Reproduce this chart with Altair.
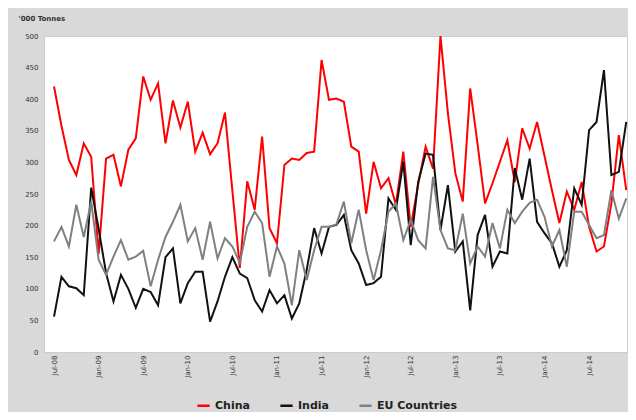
import altair as alt
import pandas as pd

months = list(pd.date_range("2008-07-01", periods=78, freq="MS").strftime("%b-%y"))
tick_labels = months[::6]

series_names = ["China", "India", "EU Countries"]
series_colors = ["#ff0000", "#111111", "#808080"]

china = [420, 358, 304, 280, 330, 309, 155, 306, 312, 262,
         320, 338, 436, 399, 425, 330, 398, 355, 396, 317,
         347, 313, 330, 379, 255, 133, 270, 225, 341, 196,
         172, 296, 306, 304, 315, 317, 462, 399, 401, 396,
         325, 317, 219, 301, 259, 275, 233, 317, 198, 265,
         325, 290, 500, 378, 283, 238, 417, 328, 235, 267,
         301, 335, 269, 354, 322, 364, 310, 256, 204, 254,
         225, 269, 198, 159, 167, 235, 343, 256]

india = [56, 119, 104, 101, 90, 260, 195, 125, 80, 122,
         100, 70, 100, 95, 74, 150, 164, 77, 109, 127,
         127, 48, 80, 119, 150, 124, 117, 82, 64, 98,
         77, 90, 53, 77, 130, 196, 156, 198, 201, 217,
         161, 140, 106, 109, 119, 243, 225, 301, 169, 269,
         314, 312, 193, 264, 159, 175, 66, 185, 217, 135,
         159, 156, 291, 241, 306, 206, 188, 172, 135, 161,
         259, 233, 351, 364, 446, 280, 285, 364]

eu = [175, 198, 167, 233, 182, 238, 146, 122, 151, 177,
      146, 151, 160, 104, 146, 182, 206, 233, 175, 196,
      146, 206, 148, 180, 167, 141, 198, 222, 204, 119,
      167, 140, 74, 161, 114, 161, 198, 198, 202, 238,
      172, 225, 161, 114, 161, 222, 235, 177, 209, 177,
      164, 277, 193, 164, 161, 219, 140, 167, 151, 204,
      164, 225, 204, 222, 236, 241, 214, 167, 193, 135,
      222, 222, 201, 180, 185, 256, 211, 243]

rows = []
for name, vals in zip(series_names, [china, india, eu]):
    for i, v in enumerate(vals):
        rows.append({"idx": i, "month": months[i], "series": name, "value": v})
df = pd.DataFrame(rows)

label_expr = "[" + ",".join("'%s'" % l for l in tick_labels) + "][round(datum.value / 6)]"

chart = alt.Chart(df).mark_line(strokeWidth=2, strokeJoin="miter").encode(
    x=alt.X("idx:Q",
            scale=alt.Scale(domain=[-1.35, 77.1], nice=False, zero=False),
            axis=alt.Axis(values=list(range(0, 73, 6)), labelExpr=label_expr,
                          labelAngle=270, labelFontSize=7, labelColor="#333333",
                          labelFont="DejaVu Sans", labelPadding=3,
                          domain=False, ticks=False, grid=False, title=None)),
    y=alt.Y("value:Q",
            scale=alt.Scale(domain=[0, 500], nice=False),
            axis=alt.Axis(values=list(range(0, 501, 50)), title="'000 Tonnes",
                          titleAngle=0, titleX=-26, titleY=-18, titleAlign="left",
                          titleBaseline="middle", titleFontSize=7, titleFontWeight="bold",
                          titleFont="DejaVu Sans", titleColor="#333333",
                          labelFontSize=7, labelColor="#333333", labelFont="DejaVu Sans",
                          labelPadding=6, domain=False, ticks=False, grid=False)),
    color=alt.Color("series:N",
                    scale=alt.Scale(domain=series_names, range=series_colors),
                    sort=series_names,
                    legend=alt.Legend(orient="none", legendX=152, legendY=362,
                                      direction="horizontal", title=None,
                                      symbolType="stroke", symbolStrokeWidth=2.5,
                                      symbolSize=150, columnPadding=25,
                                      labelFontSize=11, labelFontWeight="bold",
                                      labelFont="DejaVu Sans", labelColor="#222222")),
    detail="series:N",
    order="idx:Q",
).properties(
    width=583,
    height=316,
    autosize=alt.AutoSizeParams(type="none"),
    padding={"left": 36, "top": 28, "right": 1, "bottom": 60},
    background="#d9d9d9",
).configure_view(
    fill="#ffffff",
    stroke="#cccccc",
)

chart.save("out.html", embed_options={"renderer": "svg", "actions": False})
